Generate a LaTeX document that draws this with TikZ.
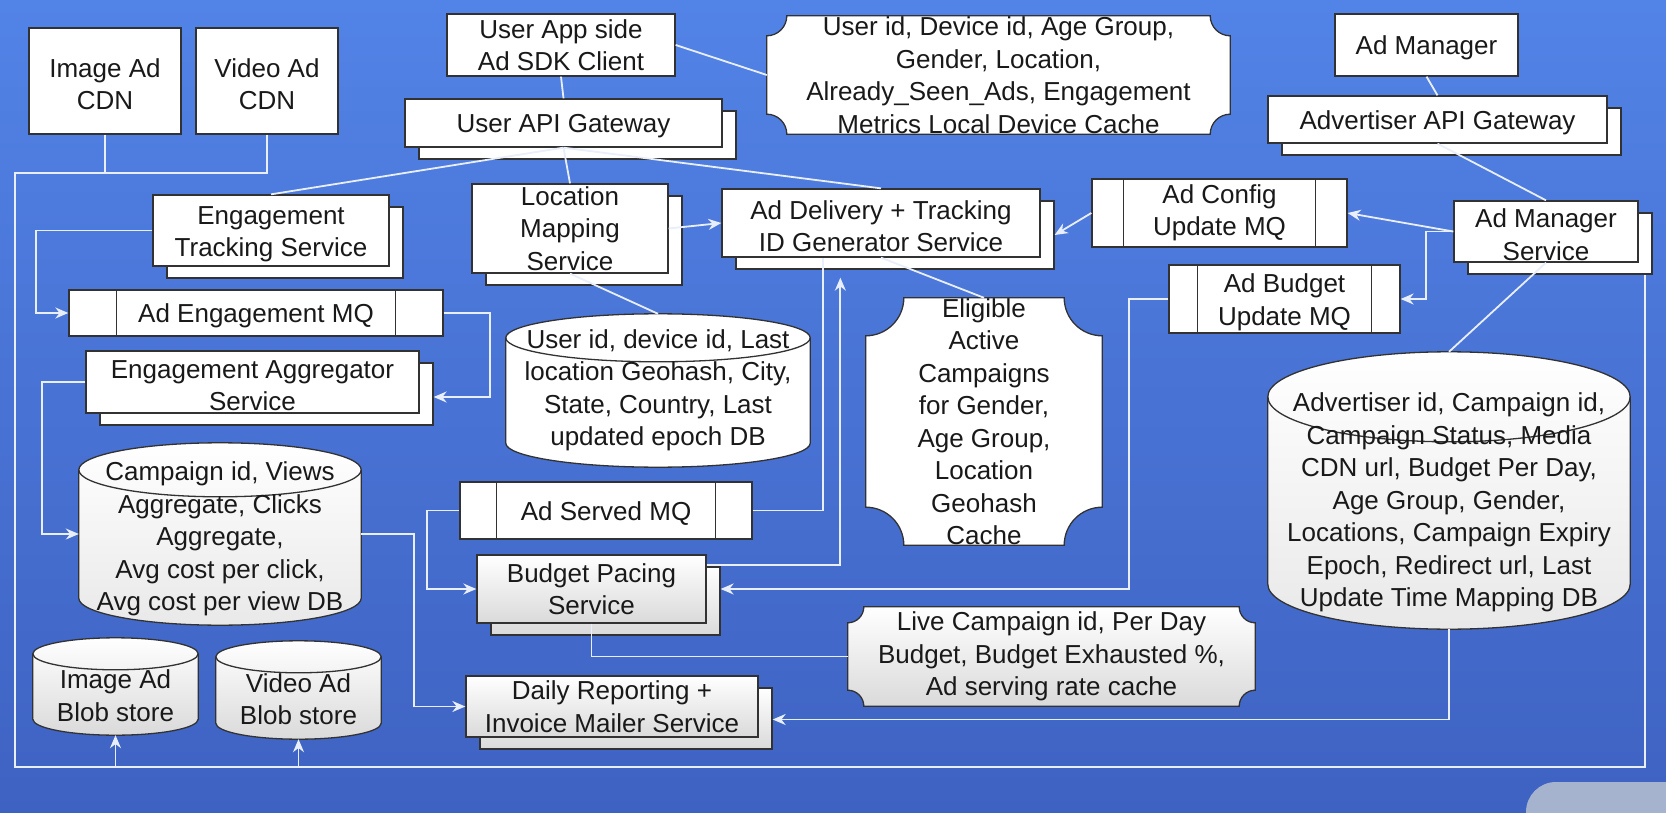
\documentclass[tikz,border=0pt]{standalone}
\usepackage{fontspec}
\setmainfont{Liberation Sans}
\usetikzlibrary{arrows.meta,calc,shadows}
\pgfdeclarelayer{bg}
\pgfdeclarelayer{shapes}
\pgfsetlayers{bg,shapes,main}
\definecolor{bgtop}{RGB}{82,131,230}
\definecolor{bgbot}{RGB}{62,98,194}
\definecolor{framecol}{RGB}{50,50,50}
\definecolor{linkcol}{RGB}{232,238,250}
\definecolor{lowgray}{RGB}{218,218,218}
\definecolor{tabgray}{RGB}{166,179,207}
\newcommand\lift[1]{\rule{0pt}{#1}}
\tikzset{
  frame/.style={draw=framecol,line width=1.3pt},
  txt/.style={align=center,inner xsep=2pt,inner ysep=-6pt,text=black!90,
    font=\fontsize{26}{32.5}\selectfont},
  lower/.style={execute at begin node={\rule{0pt}{#1}}},
  box/.style={txt,frame,fill=white,lower=25pt},
  lowfill/.style={top color=white,bottom color=lowgray},
  shadowed/.style={general shadow={shadow xshift=14pt,shadow yshift=-12pt,
    draw=framecol,line width=1.3pt,#1}},
  stack/.style={box,shadowed={fill=white}},
  lowstack/.style={box,lowfill,shadowed={lowfill}},
  link/.style={draw=linkcol,line width=1.8pt},
  arr/.style={link,-{Stealth[length=13pt,width=11pt]}}
}
% storage box with hollow corners
\newcommand\plaque[3][fill=white]{%
  \begin{pgfonlayer}{shapes}
  \draw[frame,#1] ($(#2.north west)+(#3,0)$) -- ($(#2.north east)+(-#3,0)$)
    arc[start angle=180,end angle=270,radius=#3pt] -- ($(#2.south east)+(0,#3)$)
    arc[start angle=90,end angle=180,radius=#3pt] -- ($(#2.south west)+(#3,0)$)
    arc[start angle=0,end angle=90,radius=#3pt] -- ($(#2.north west)+(0,-#3)$)
    arc[start angle=270,end angle=360,radius=#3pt] -- cycle;
  \end{pgfonlayer}}
% database drum round a text node
\newcommand\dbcyl[3][fill=white]{%
  \begin{pgfonlayer}{shapes}
  \draw[frame,#1] let \p1=(#2.north west), \p2=(#2.south east), \n1={(\x2-\x1)/2} in
    (\x1,\y1-#3pt) -- (\x1,\y2+#3pt)
    arc[start angle=180,end angle=360,x radius=\n1,y radius=#3pt]
    -- (\x2,\y1-#3pt)
    arc[start angle=0,end angle=180,x radius=\n1,y radius=#3pt] -- cycle;
  \draw[frame] let \p1=(#2.north west), \p2=(#2.south east), \n1={(\x2-\x1)/2} in
    (\x1,\y1-#3pt) arc[start angle=180,end angle=360,x radius=\n1,y radius=#3pt];
  \end{pgfonlayer}}
\newcommand\mqsides[2]{%
  \draw[frame] ($(#1.north west)+(#2,0)$) -- ($(#1.south west)+(#2,0)$)
    ($(#1.north east)+(-#2,0)$) -- ($(#1.south east)+(-#2,0)$);}
\begin{document}
\begin{tikzpicture}[x=1pt,y=1pt]
	\useasboundingbox (0,0) rectangle (1666,-813);
	\begin{pgfonlayer}{bg}
		\shade[top color=bgtop,bottom color=bgbot] (0,0) rectangle (1666,-813);
	\end{pgfonlayer}
	\fill[tabgray,rounded corners=30pt] (1526,-782) rectangle (1730,-870);

	\node[box,minimum width=152pt,minimum height=106pt] (imgcdn) at (105,-81) {\lift{25pt}Image Ad\\CDN};
	\node[box,minimum width=142pt,minimum height=106pt] (vidcdn) at (267,-81) {\lift{25pt}Video Ad\\CDN};
	\node[box,minimum width=228pt,minimum height=62pt] (sdk) at (561,-45) {User App side\\Ad SDK Client};
	\node[txt,minimum width=463pt,minimum height=118pt] (devcache) at (998.5,-75) {User id, Device id, Age Group,\\Gender, Location,\\Already\_Seen\_Ads, Engagement\\Metrics Local Device Cache};
	\node[box,minimum width=183pt,minimum height=62pt] (admgr) at (1426.5,-45) {Ad Manager};
	\node[stack,minimum width=317pt,minimum height=48pt] (userapi) at (563.5,-123) {User API Gateway};
	\node[stack,minimum width=339pt,minimum height=47pt] (advapi) at (1437.5,-119.5) {Advertiser API Gateway};
	\node[stack,minimum width=236pt,minimum height=71pt] (engtrack) at (271,-230.5) {\lift{25pt}Engagement\\Tracking Service};
	\node[stack,minimum width=196pt,minimum height=89pt] (locmap) at (570,-228.5) {Location\\Mapping\\Service};
	\node[stack,minimum width=318pt,minimum height=68pt] (delivery) at (881,-223) {\lift{25pt}Ad Delivery + Tracking\\ID Generator Service};
	\node[box,minimum width=255pt,minimum height=68pt] (cfgmq) at (1219.5,-213) {Ad Config\\Update MQ};
	\node[stack,minimum width=184pt,minimum height=61pt] (mgrsvc) at (1546,-231.5) {\lift{25pt}Ad Manager\\Service};
	\node[box,minimum width=231pt,minimum height=68pt] (budgetmq) at (1284.5,-299) {\lift{25pt}Ad Budget\\Update MQ};
	\node[box,minimum width=374pt,minimum height=46pt] (engmq) at (256,-313) {Ad Engagement MQ};
	\node[stack,minimum width=333pt,minimum height=62pt] (engagg) at (252.5,-382) {\lift{25pt}Engagement Aggregator\\Service};
	\node[txt,minimum width=304pt,minimum height=153pt] (userdb) at (658,-390.5) {User id, device id, Last\\location Geohash, City,\\State, Country, Last\\updated epoch DB};
	\node[txt,minimum width=236pt,minimum height=247pt,inner ysep=-10pt] (eligible) at (984,-421.5) {Eligible\\Active\\Campaigns\\for Gender,\\Age Group,\\Location\\Geohash\\Cache};
	\node[txt,minimum width=362pt,minimum height=277pt] (advdb) at (1449,-490.5) {\lift{43pt}Advertiser id, Campaign id,\\Campaign Status, Media\\CDN url, Budget Per Day,\\Age Group, Gender,\\Locations, Campaign Expiry\\Epoch, Redirect url, Last\\Update Time Mapping DB};
	\node[txt,minimum width=282pt,minimum height=182pt] (campdb) at (220,-534) {\lift{29pt}Campaign id, Views\\Aggregate, Clicks\\Aggregate,\\Avg cost per click,\\Avg cost per view DB};
	\node[box,minimum width=292pt,minimum height=57pt] (servedmq) at (606,-510.5) {Ad Served MQ};
	\node[lowstack,minimum width=229pt,minimum height=68pt] (pacing) at (591.5,-589) {Budget Pacing\\Service};
	\node[txt,minimum width=407pt,minimum height=99pt] (livecache) at (1051.5,-656.5) {Live Campaign id, Per Day\\Budget, Budget Exhausted \%,\\Ad serving rate cache};
	\node[txt,minimum width=165pt,minimum height=97pt] (imgblob) at (115.5,-686.5) {\lift{37pt}Image Ad\\Blob store};
	\node[txt,minimum width=165pt,minimum height=98pt] (vidblob) at (298.5,-690) {\lift{37pt}Video Ad\\Blob store};
	\node[lowstack,minimum width=292pt,minimum height=61pt] (daily) at (612,-706.5) {Daily Reporting +\\Invoice Mailer Service};

	\plaque{devcache}{20}
	\plaque{eligible}{38}
	\plaque[lowfill]{livecache}{16}
	\dbcyl{userdb}{24}
	\dbcyl[top color=white,bottom color=lowgray!60]{advdb}{45}
	\dbcyl[top color=white,bottom color=lowgray!60]{campdb}{27}
	\dbcyl[lowfill]{imgblob}{16}
	\dbcyl[lowfill]{vidblob}{16}
	\mqsides{cfgmq}{32}
	\mqsides{budgetmq}{29}
	\mqsides{engmq}{48}
	\mqsides{servedmq}{37}

	\coordinate (cdnbus) at (15,-173);
	\coordinate (busend) at (1645,-767);
	\draw[link] (imgcdn.south) -- (imgcdn.south |- cdnbus);
	\draw[link] (vidcdn.south) |- (cdnbus) |- (busend) -- ($(busend |- mgrsvc.south)+(0,-12)$);
	\draw[arr] (imgblob.south |- busend) -- (imgblob.south);
	\draw[arr] (vidblob.south |- busend) -- (vidblob.south);

	\draw[link] (sdk.east) -- (devcache.west);
	\draw[link] (sdk.south) -- (userapi.north);
	\draw[link] (userapi.south) -- (engtrack.north);
	\draw[link] (userapi.south) -- (locmap.north);
	\draw[link] (userapi.south) -- (delivery.north);
	\draw[arr] (locmap.east) -- (delivery.west);
	\draw[link] (locmap.south) -- (userdb.north);
	\draw[link] (delivery.south) -- (eligible.north);
	\draw[arr] (cfgmq.west) -- ($(delivery.east)+(14,-12)$);
	\draw[arr] (mgrsvc.west) -- (cfgmq.east);
	\draw[arr] (mgrsvc.west) -- ++(-27,0) |- (budgetmq.east);
	\draw[link] (admgr.south) -- (advapi.north);
	\draw[link] (advapi.south) -- (mgrsvc.north);
	\draw[link] (mgrsvc.south) -- (advdb.north);
	\draw[arr] (budgetmq.west) -- ++(-39,0) |- ($(pacing.east)+(14,0)$);
	\draw[arr] (engtrack.west) -- ++(-116,0) |- (engmq.west);
	\draw[arr] (engmq.east) -- ++(46,0) |- ($(engagg.east)+(14,-15)$);
	\draw[arr] (engagg.west) -- ++(-43,0) |- (campdb.west);
	\draw[arr] (campdb.east) -- ++(53,0) |- (daily.west);
	\draw[arr] (servedmq.west) -- ++(-32,0) |- (pacing.west);
	\draw[link] (servedmq.east) -| ($(delivery.south west)+(102,0)$);
	\draw[arr] ($(pacing.north east)+(0,-11)$) -| ($(delivery.south west)+(119,-20)$);
	\draw[link] (pacing.south) |- (livecache.west);
	\draw[arr] (advdb.south) |- ($(daily.east)+(14,-13)$);
\end{tikzpicture}
\end{document}
